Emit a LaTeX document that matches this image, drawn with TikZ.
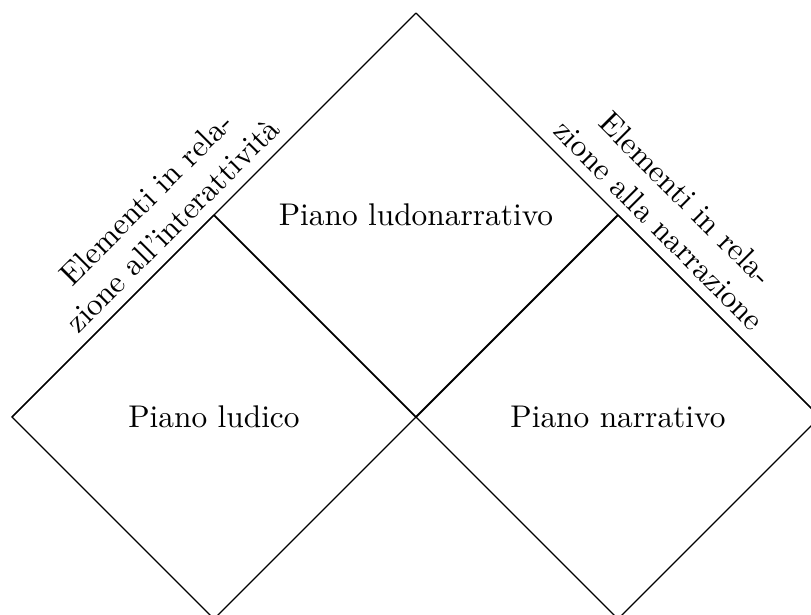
\documentclass[tikz,border=0pt]{standalone}
\usepackage{amsmath}
\usetikzlibrary{positioning}
\tikzset{
    every node/.append style={
        font=\normalsize
    },
    division/.style={
        semithick
    },
    sidelabel/.style={
        sloped,
        above,
        align=center
    }
}

\begin{document}
\begin{tikzpicture}
                \useasboundingbox (-4.660,-2.207) rectangle (4.425,4.672);

                \coordinate (c) at (0,0);
                \coordinate (t) at (0,4.526);
                \coordinate (l) at (-4.526,0);
                \coordinate (r) at (4.526,0);
                \coordinate (tl) at (-2.263,2.263);
                \coordinate (tr) at (2.263,2.263);
                \coordinate (bl) at (-2.263,-2.263);
                \coordinate (br) at (2.263,-2.263);

                \draw (tl) -- (l) -- (bl) -- (c) -- (br) -- (r) -- (tr);
                \draw[division] (tl) -- (c) -- (tr);
                \draw (l) -- node[sidelabel, pos=0.436] (interlabel) {Elementi in rela-\\zione all'interattività} (t);
                \draw (t) -- node[sidelabel, pos=0.564] (narrlabel) {Elementi in rela-\\zione alla narrazione} (r);

                \node (ludonarr) at (tl -| c) {Piano ludonarrativo};
                \node (ludico) at (tl |- c) {Piano ludico};
                \node (narr) at (tr |- c) {Piano narrativo};
            \end{tikzpicture}
\end{document}
